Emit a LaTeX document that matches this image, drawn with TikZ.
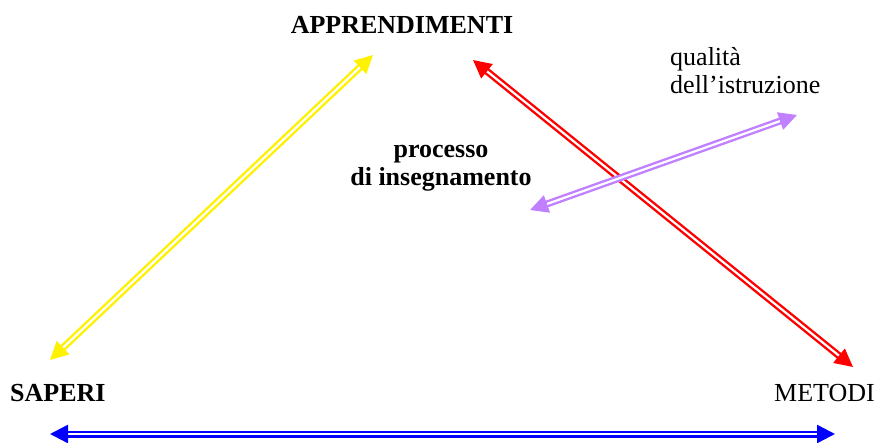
\documentclass[tikz,border=0pt]{standalone}
\usepackage{fontspec}
\setmainfont{Liberation Serif}
\usetikzlibrary{arrows.meta}
\definecolor{lilla}{RGB}{192,128,255}

\begin{document}
\begin{tikzpicture}[x=1pt,y=-1pt,
        lbl/.style={inner sep=0pt,font=\fontsize{26}{28}\selectfont},
        blbl/.style={lbl,font=\fontsize{26}{28}\selectfont\bfseries},
        dbl/.style={line width=2.4pt,double=white,double distance=2.2pt,{Triangle[length=18pt,width=18pt]}-{Triangle[length=18pt,width=18pt]}}
      ]
      \useasboundingbox (0,0) rectangle (878,443);
      \node[blbl,anchor=base] (appr) at (402,34) {APPRENDIMENTI};
      \node[blbl,anchor=base west] (saperi) at (10,401) {SAPERI};
      \node[lbl,anchor=base east] (metodi) at (875,401) {METODI};
      \node[blbl,align=center,anchor=base] (proc) at (441,186) {processo\\di insegnamento};
      \node[lbl,align=left,anchor=base west] (qual) at (670,94) {qualità\\dell’istruzione};
      \coordinate (ya) at (50,360);
      \coordinate (yb) at (373,55);
      \coordinate (ra) at (473,60);
      \coordinate (rb) at (853,367);
      \coordinate (pa) at (530,210);
      \coordinate (pb) at (797,115);
      \coordinate (ba) at (50,434);
      \coordinate (bb) at (835,434);
      \draw[dbl,yellow] (ya) -- (yb);
      \draw[dbl,red] (ra) -- (rb);
      \draw[dbl,lilla] (pa) -- (pb);
      \draw[dbl,blue] (ba) -- (bb);
    \end{tikzpicture}
\end{document}
